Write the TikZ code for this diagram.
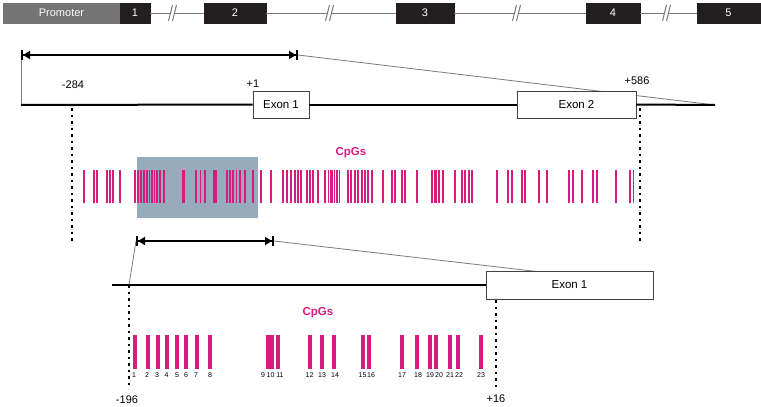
\documentclass[tikz,border=0pt]{standalone}
\usepackage{fontspec}
\setmainfont{Liberation Sans}
\usetikzlibrary{arrows.meta}
\definecolor{cpg}{HTML}{D81B7F}
\definecolor{hl}{HTML}{97ABBD}
\definecolor{exdark}{HTML}{231F20}
\definecolor{promo}{HTML}{747474}
\definecolor{thin}{HTML}{7A7A7A}
\newcommand{\fsz}[1]{\fontsize{#1}{#1}\selectfont}
\begin{document}
\begin{tikzpicture}[x=1pt,y=-1pt,
  blk/.style={fill=exdark,draw=exdark,text=white,minimum height=20pt,inner sep=0pt,font=\fsz{11}},
  exon/.style={draw=black!75,fill=white,line width=0.8pt,minimum height=27pt,inner sep=0pt,font=\fsz{11.5}},
  lbl/.style={font=\fsz{11},inner sep=0pt},
  num/.style={font=\fsz{7},inner sep=0pt},
  cpgl/.style={font=\fsz{11.5}\bfseries,text=cpg,inner sep=0pt},
  dim/.style={line width=2pt,black,{Bar[width=10pt]Triangle[length=7pt,width=8pt]}-{Triangle[length=7pt,width=8pt]Bar[width=10pt]}},
  thinl/.style={draw=thin,line width=0.8pt},
  backbone/.style={line width=2pt,black},
  dots/.style={line width=2pt,dash pattern=on 2.5pt off 4pt},
  gline/.style={draw=thin,line width=1pt},
]
\useasboundingbox (0,0) rectangle (761,407);

% ---------- top gene structure ----------
\node[blk,fill=promo,draw=promo,minimum width=117pt] (prom) at (61.5,13) {Promoter};
\node[blk,minimum width=30pt] (g1) at (135,13) {1};
\node[blk,minimum width=62pt] (g2) at (235,13) {2};
\node[blk,minimum width=58pt] (g3) at (425,13) {3};
\node[blk,minimum width=54pt] (g4) at (613,13) {4};
\node[blk,minimum width=63pt] (g5) at (728.5,13) {5};
\foreach \k/\x in {1/173,2/330,3/517,4/667}{
  \coordinate (brkL\k) at (\x-3,13);
  \coordinate (brkR\k) at (\x+2,13);
  \draw[gline] (\x-4.5,21) -- (\x-0.5,5);
  \draw[gline] (\x-0.5,21) -- (\x+3.5,5);
}
\draw[gline] (g1.east) -- (brkL1);
\draw[gline] (brkR1) -- (g2.west);
\draw[gline] (g2.east) -- (brkL2);
\draw[gline] (brkR2) -- (g3.west);
\draw[gline] (g3.east) -- (brkL3);
\draw[gline] (brkR3) -- (g4.west);
\draw[gline] (g4.east) -- (brkL4);
\draw[gline] (brkR4) -- (g5.west);

% ---------- middle region ----------
\coordinate (aL) at (21,55);
\coordinate (aR) at (298,55);
\coordinate (mL) at (21,105);
\coordinate (mR) at (715,105);
\draw[thinl] (aR) -- (mR);
\draw[thinl] (aL) -- (mL);
\draw[dim] (aL) -- (aR);
\node[exon,minimum width=56pt] (e1) at (281,104.5) {Exon 1};
\node[exon,minimum width=119pt] (e2) at (576.5,104.5) {Exon 2};
\draw[backbone] (mL) -- (e1.west);
\draw[backbone] (e1.east) -- (e2.west);
\draw[backbone] (e2.east) -- (mR);
\node[lbl] (l284) at (73,85) {-284};
\node[lbl] (l1) at (253,84) {+1};
\node[lbl] (l586) at (637,81) {+586};
\coordinate (p284) at (72,108);
\coordinate (p284b) at (72,243);
\coordinate (p586) at (640,108);
\coordinate (p586b) at (640,243);
\draw[dots] (p284) -- (p284b);
\draw[dots] (p586) -- (p586b);

\fill[hl] (137,157) rectangle (258,218);
\node[cpgl] (cpg1) at (351,153) {CpGs};
\foreach \x/\w in {84/1.8,94/1.8,97/1.8,107/1.8,110/1.8,113/1.8,120/1.8,
  135/1.8,138/1.8,141/1.8,144/1.8,147/1.8,149.5/1.6,152/1.6,154.5/1.6,157/1.8,160/1.8,164/1.8,
  183.5/3.2,196/1.8,200.5/1.8,205/1.8,215/3.2,227/1.8,230/1.8,233/1.8,236.5/1.8,240/1.8,245/1.8,253/1.8,261/1.8,271/1.8,
  283/1.8,287/2.8,291/1.8,295/1.8,298/1.8,301/1.6,307/1.8,310/1.8,313/1.8,318/1.8,325/2.8,328.5/1.6,331.5/2.4,334.5/1.6,337/1.6,339.5/1.6,
  348/1.8,351/1.8,355/1.8,358/1.8,362/1.8,365/1.8,368/1.8,372/1.8,383/1.8,392/1.8,395/1.8,402/1.8,405/1.8,417/1.8,
  432/1.8,435.5/2.6,439/1.8,443/1.8,455/1.8,462/1.8,465/1.8,469/1.8,472/1.8,497/1.8,508/2.8,512/1.8,522/1.8,525/1.8,
  539/1.8,547/1.8,569/1.8,573/1.8,582/1.8,593/1.8,597/1.8,616/1.8,630/2.8,633.5/1.6}{
  \fill[cpg] ({\x-\w/2},170) rectangle ({\x+\w/2},203);
}

% ---------- bottom region ----------
\coordinate (bL) at (136,241);
\coordinate (bR) at (274,241);
\coordinate (q196) at (129,285);
\coordinate (qS) at (112,285);
\coordinate (qE) at (653,285);
\draw[thinl] (bR) -- (qE);
\draw[thinl] (bL) -- (q196);
\draw[dim] (bL) -- (bR);
\node[exon,minimum width=167pt,minimum height=28pt] (e3) at (569.5,285) {Exon 1};
\draw[backbone] (qS) -- (e3.west);
\coordinate (q196b) at (129,389);
\coordinate (q16) at (496,300);
\coordinate (q16b) at (496,389);
\draw[dots] (q196) -- (q196b);
\draw[dots] (q16) -- (q16b);
\node[lbl] (l196) at (127,400) {-196};
\node[lbl] (l16) at (496,399) {+16};
\node[cpgl] (cpg2) at (318,313) {CpGs};
\foreach \x/\lx/\n in {134.5/134/1,148/147/2,157.5/157/3,167/166.5/4,177/177/5,186/186/6,197/196/7,210/210/8,
  267.5/263/9,271.5/270.5/10,278/280/11,310/309.5/12,322/322/13,334/335/14,363/362.5/15,369/371/16,
  402/402/17,417/418/18,430/430/19,436/439/20,450/450/21,458/459/22,481/481/23}{
  \fill[cpg] (\x-2,335) rectangle (\x+2,369);
  \node[num] (n\n) at (\lx,375.5) {\n};
}
\end{tikzpicture}
\end{document}
